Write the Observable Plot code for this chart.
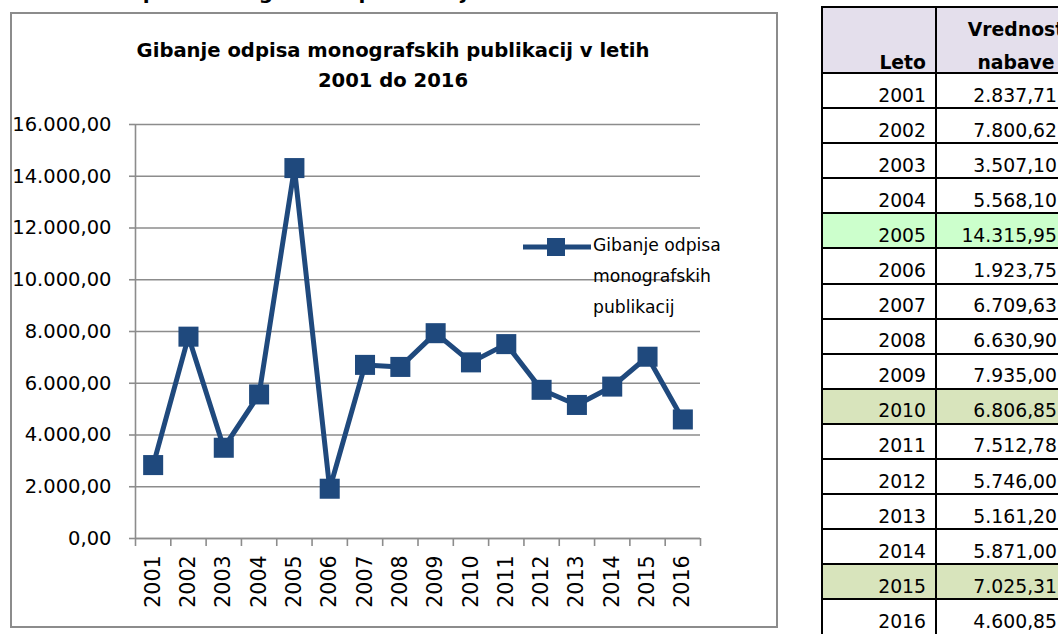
<!DOCTYPE html>
<html>
<head>
<meta charset="utf-8">
<script src="https://cdn.jsdelivr.net/npm/d3@7"></script>
<script src="https://cdn.jsdelivr.net/npm/@observablehq/plot@0.6"></script>
<style>
  html, body { margin: 0; padding: 0; background: #fff; }
  body { width: 1058px; height: 634px; overflow: hidden; position: relative; font-family: "DejaVu Sans", sans-serif; color: #000; }
  #heading { position: absolute; left: 5px; top: -18px; font-size: 20px; line-height: 20px; font-weight: bold; white-space: nowrap; }
  #frame { position: absolute; left: 10px; top: 12px; width: 764px; height: 612px; border: 2px solid #8c8c8c; }
  #chart { position: absolute; left: 0; top: 0; }
  #title { position: absolute; left: 10px; width: 766px; top: 36px; text-align: center; font-weight: bold; font-size: 19.6px; line-height: 30px; }
  #legend { position: absolute; left: 523px; top: 230px; }
  #legend svg { position: absolute; left: 0; top: 4px; }
  #legend .txt { position: absolute; left: 70px; top: 0; font-size: 17.2px; line-height: 31px; white-space: nowrap; }
  table { position: absolute; left: 821px; top: 6px; width: 274px; table-layout: fixed; border-collapse: collapse; font-size: 18.8px; }
  td, th { border: 2px solid #000; padding: 0; overflow: visible; white-space: nowrap; box-sizing: border-box; }
  th { background: #e4dfec; font-weight: bold; height: 66px; position: relative; }
  th span { position: absolute; bottom: -7px; line-height: 33px; }
  th.c1 span { right: 9px; }
  th.c2 span { left: 0; right: 0; text-align: center; }
  td { height: 35.1px; line-height: 33px; }
  td span { position: relative; top: 4.5px; }
  .c1 { width: 114px; text-align: right; padding-right: 9px; }
  .c2 { width: 160px; text-align: right; padding-right: 38px; }
  th.c2 { padding-right: 0; padding-left: 0; }
</style>
</head>
<body>
<div id="heading">Vrednost odpisa monografskih publikacij</div>
<div id="frame"></div>
<div id="chart"></div>
<div id="title">Gibanje odpisa monografskih publikacij v letih<br>2001 do 2016</div>
<div id="legend"></div>
<table id="tbl"></table>
<script>
const years = [2001, 2002, 2003, 2004, 2005, 2006, 2007, 2008, 2009, 2010, 2011, 2012, 2013, 2014, 2015, 2016];
const values = [2837.71, 7800.62, 3507.10, 5568.10, 14315.95, 1923.75, 6709.63, 6630.90, 7935.00, 6806.85, 7512.78, 5746.00, 5161.20, 5871.00, 7025.31, 4600.85];
const yTicks = [0, 2000, 4000, 6000, 8000, 10000, 12000, 14000, 16000];
const seriesName = "Gibanje odpisa monografskih publikacij";
const legendLines = ["Gibanje odpisa", "monografskih", "publikacij"];
const tableHeader = ["Leto", "Vrednost", "nabave"];
const highlight = {2005: "#ccffcc", 2010: "#d8e4bc", 2015: "#d8e4bc"};

const lineColor = "#1f497d";
const gridColor = "#8c8c8c";
const slFormat = d3.formatLocale({decimal: ",", thousands: ".", grouping: [3], currency: ["", ""]}).format(",.2f");

const data = years.map((y, i) => ({year: y, value: values[i], series: seriesName}));
const bounds = years.map(y => y - 0.5).concat([years[years.length - 1] + 0.5]);

const chart = Plot.plot({
  width: 780,
  height: 634,
  marginLeft: 135,
  marginRight: 80,
  marginTop: 124,
  marginBottom: 96,
  x: {domain: [bounds[0], bounds[bounds.length - 1]]},
  y: {domain: [0, 16000]},
  style: {fontFamily: "DejaVu Sans", fontSize: "19.5px", color: "#000", background: "transparent", overflow: "visible"},
  marks: [
    Plot.gridY(yTicks, {stroke: gridColor, strokeOpacity: 1, strokeWidth: 1.6}),
    Plot.ruleX([bounds[0]], {stroke: gridColor, strokeWidth: 1.6}),
    Plot.ruleY([0], {stroke: gridColor, strokeWidth: 1.6}),
    Plot.axisY(yTicks, {tickSize: 6, tickPadding: 18, stroke: gridColor, strokeWidth: 1.6, tickFormat: slFormat, label: null, fill: "#000", fontSize: 19.5}),
    Plot.axisX(bounds, {tickSize: 8, stroke: gridColor, strokeWidth: 1.6, tickFormat: () => "", label: null}),
    Plot.axisX(years, {tickSize: 0, tickPadding: 17, tickRotate: -90, tickFormat: d => String(d), label: null, fill: "#000", fontSize: 20.5}),
    Plot.line(data, {x: "year", y: "value", stroke: lineColor, strokeWidth: 5}),
    Plot.dot(data, {x: "year", y: "value", symbol: "square", r: 11.3, fill: lineColor})
  ]
});
document.getElementById("chart").appendChild(chart);

// legend
const leg = document.getElementById("legend");
leg.innerHTML = `<svg width="70" height="26"><line x1="0" y1="13" x2="68" y2="13" stroke="${lineColor}" stroke-width="5"/><rect x="24" y="4" width="18" height="18" fill="${lineColor}"/></svg><div class="txt">${legendLines.join("<br>")}</div>`;

// table
const tbl = document.getElementById("tbl");
let html = `<tr><th class="c1"><span>${tableHeader[0]}</span></th><th class="c2"><span>${tableHeader[1]}<br>${tableHeader[2]}</span></th></tr>`;
years.forEach((y, i) => {
  const bg = highlight[y] ? ` style="background:${highlight[y]}"` : "";
  html += `<tr${bg}><td class="c1"><span>${y}</span></td><td class="c2"><span>${slFormat(values[i])}</span></td></tr>`;
});
tbl.innerHTML = html;
</script>
</body>
</html>
